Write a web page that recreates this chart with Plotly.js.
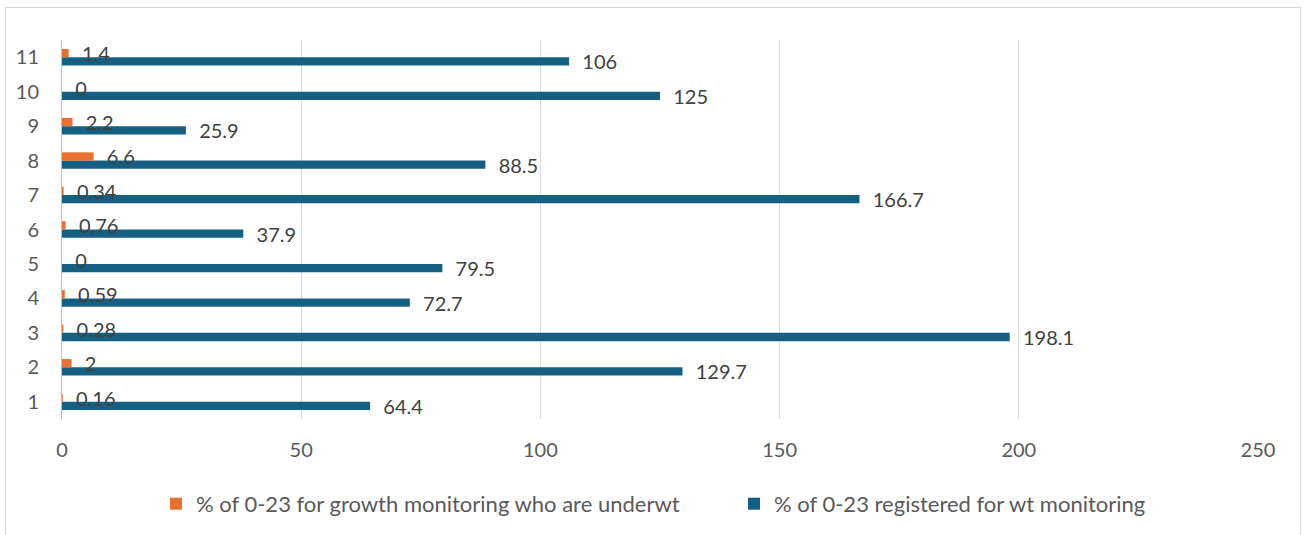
<!DOCTYPE html>
<html>
<head>
<meta charset="utf-8">
<script src="https://cdn.plot.ly/plotly-3.0.1.min.js"></script>
<style>
  html, body { margin: 0; padding: 0; background: #fff; }
  #wrap { position: relative; width: 1307px; height: 535px; overflow: hidden; }
  #chart { position: absolute; left: 0; top: 0; width: 1307px; height: 535px; }
  #frame { position: absolute; left: 5px; top: 7px; width: 1296px; height: 560px;
           border: 1px solid #d9d9d9; pointer-events: none; box-sizing: border-box; }
</style>
</head>
<body>
<div id="wrap">
  <div id="chart"></div>
  <div id="frame"></div>
</div>
<script>
const categories = ['1', '2', '3', '4', '5', '6', '7', '8', '9', '10', '11'];
const underwtName = '% of 0-23 for growth monitoring who are underwt';
const underwtValues = [0.16, 2, 0.28, 0.59, 0, 0.76, 0.34, 6.6, 2.2, 0, 1.4];
const registeredName = '% of 0-23 registered for wt monitoring';
const registeredValues = [64.4, 129.7, 198.1, 72.7, 79.5, 37.9, 166.7, 88.5, 25.9, 125, 106];
const xTicks = [0, 50, 100, 150, 200, 250];

const FONT = 'Lato, "Open Sans", sans-serif';
const pad = '\u00a0\u00a0';

const traces = [
  {
    type: 'bar', orientation: 'h', name: registeredName,
    y: categories, x: registeredValues,
    text: registeredValues.map(v => pad + v), textposition: 'outside',
    constraintext: 'none', cliponaxis: false,
    textfont: {family: FONT, size: 20, color: '#404040'},
    marker: {color: '#156082'}, hoverinfo: 'x'
  },
  {
    type: 'bar', orientation: 'h', name: underwtName,
    y: categories, x: underwtValues,
    text: underwtValues.map(v => pad + v), textposition: 'outside',
    constraintext: 'none', cliponaxis: false,
    textfont: {family: FONT, size: 20, color: '#404040'},
    marker: {color: '#E97132'}, hoverinfo: 'x'
  }
];

const layout = {
  width: 1307, height: 535,
  margin: {l: 62, r: 49, t: 40, b: 116, autoexpand: false},
  paper_bgcolor: 'rgba(0,0,0,0)', plot_bgcolor: 'rgba(0,0,0,0)',
  font: {family: FONT, size: 20, color: '#595959'},
  barmode: 'group', bargap: 0.52, bargroupgap: 0,
  showlegend: true,
  legend: {
    orientation: 'h', traceorder: 'reversed',
    x: 0.0786, xanchor: 'left', y: -0.224, yanchor: 'middle',
    entrywidth: 533, entrywidthmode: 'pixels',
    font: {family: FONT, size: 22, color: '#595959'},
    itemclick: false, itemdoubleclick: false
  },
  xaxis: {
    range: [0, 250], tickvals: xTicks, ticktext: xTicks.map(String),
    showgrid: true, gridcolor: '#d9d9d9', gridwidth: 1,
    zeroline: false, showline: false, ticks: '',
    ticklabelstandoff: 17, fixedrange: true,
    tickfont: {family: FONT, size: 20, color: '#595959'}
  },
  yaxis: {
    type: 'category', categoryorder: 'array', categoryarray: categories,
    showgrid: false, zeroline: false,
    showline: true, linecolor: '#bfbfbf', linewidth: 1,
    ticks: '', ticklabelstandoff: 18, fixedrange: true,
    tickfont: {family: FONT, size: 20, color: '#595959'}
  }
};

Plotly.newPlot('chart', traces, layout, {displayModeBar: false, staticPlot: true});
</script>
</body>
</html>
